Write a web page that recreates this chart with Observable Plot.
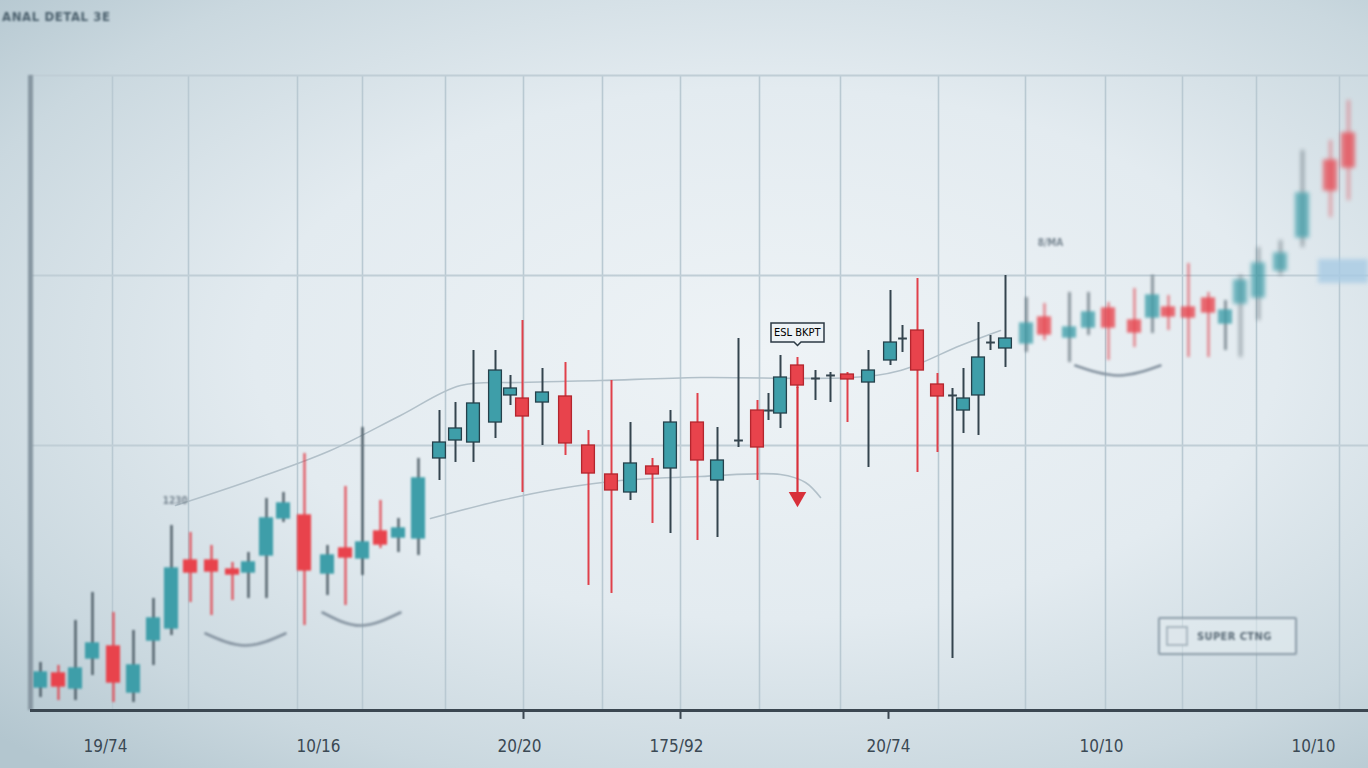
<!DOCTYPE html>
<html>
<head>
<meta charset="utf-8">
<script src="https://cdn.jsdelivr.net/npm/d3@7"></script>
<script src="https://cdn.jsdelivr.net/npm/@observablehq/plot@0.6"></script>
<style>
html, body { margin: 0; padding: 0; width: 1368px; height: 768px; overflow: hidden; }
body {
  position: relative;
  background: radial-gradient(ellipse 78% 72% at 56% 46%, #eef3f6 0%, #e3ebf0 48%, #cad8df 80%, #b3c6cf 100%);
  font-family: "DejaVu Sans", sans-serif;
}
#chart { position: absolute; left: 0; top: 0; }
.title { position: absolute; left: 2px; top: 9px; font: bold 13px "DejaVu Sans Condensed", sans-serif; color: #4a5f6c; letter-spacing: 0.6px; filter: blur(1px); }
.legend { position: absolute; left: 1158px; top: 617px; width: 139px; height: 38px; box-sizing: border-box; border: 2px solid #8b9ba7; border-radius: 2px; background: rgba(228,236,240,0.55); display: flex; align-items: center; gap: 9px; padding-left: 6px; filter: blur(1.1px); }
.legend .sw { width: 22px; height: 20px; border: 2px solid #a9b7c0; background: #dde6eb; box-sizing: border-box; }
.legend span { font: bold 11px "DejaVu Sans Condensed", sans-serif; color: #5b6b77; letter-spacing: 0.4px; }
.tag { position: absolute; left: 1318px; top: 259px; width: 50px; height: 24px; background: #a8cbe4; filter: blur(2.2px); opacity: 0.8; }
.blurL { filter: blur(0.9px); }
.blurR { filter: blur(1.6px); opacity: 0.78; }
.blurRR { filter: blur(2.2px); opacity: 0.7; }
.soft { filter: blur(0.7px); }
</style>
</head>
<body>
<div class="title">ANAL DETAL 3E</div>
<div id="chart"></div>
<div class="tag"></div>
<div class="legend"><div class="sw"></div><span>SUPER CTNG</span></div>
<script>
// ---- data ----
const day   = [1.25,3.5,5.625,7.75,10.375,12.875,15.375,17.625,20,22.625,25.25,27.25,29.5,31.625,34.25,37.125,39.375,41.5,43.75,46,48.5,51.125,53.125,55.375,58.125,60,61.5,64,66.875,69.75,72.625,75,77.75,80,83.375,85.875,88.5,90.875,92.25,93.75,95.875,98.125,100,102.125,104.75,107.5,109,110.875,113.375,115.25,116.625,118.5,120,121.875,124.5,126.75,129.875,132.25,134.75,138,140.25,142.25,144.75,147.25,149.375,151.25,153.5,156.25,159,162.5,164.75];
const open  = [3.62,5.83,3.46,8.19,10.08,2.83,11.02,12.91,23.62,23.62,22.2,21.73,24.41,30.24,30.71,21.57,25.51,23.94,28.19,27.24,27.09,39.69,42.52,42.2,45.35,49.61,49.13,48.5,49.45,41.73,37.17,34.33,38.43,38.11,45.35,36.22,42.52,47.24,47.24,46.77,54.33,52.28,52.76,52.91,51.65,55.12,58.58,59.84,51.34,49.61,47.24,49.61,57.95,57.01,57.8,61.89,58.74,60.31,63.31,61.42,61.89,63.46,63.46,64.88,60.94,64.09,65.04,69.29,74.49,86.61,90.87];
const high  = [7.56,7.09,14.17,18.58,15.43,12.6,17.64,29.13,28.03,25.98,23.31,24.88,33.39,34.33,40.47,25.98,35.28,44.57,33.07,30.24,39.69,47.24,48.5,56.69,56.69,52.76,61.42,53.86,54.8,44.09,51.97,45.35,39.69,47.24,49.92,44.57,58.58,48.82,49.92,55.91,55.59,53.54,53.23,53.23,56.69,66.14,60.63,68.03,53.07,50.71,53.86,61.1,59.06,68.5,65.04,64.09,65.83,65.83,64.25,66.46,68.5,65.35,70.39,65.83,64.57,68.5,72.91,74.02,88.19,89.76,96.06];
const low   = [2.05,1.57,1.57,5.51,1.26,1.26,7.09,11.81,17.01,14.96,17.32,17.64,17.64,29.61,13.39,18.11,16.54,21.26,25.51,24.88,24.41,36.22,39.06,39.06,42.83,48.03,34.33,41.73,40.16,19.69,18.43,33.07,29.45,27.87,26.77,27.24,41.42,36.22,45.67,44.41,50.71,48.82,48.5,45.35,38.27,54.33,56.38,37.48,40.63,8.19,43.62,43.31,56.69,54.02,56.38,58.27,54.8,59.06,55.12,57.17,59.37,59.84,55.59,55.59,56.69,55.59,61.42,68.5,72.91,77.64,80.31];
const close = [5.98,3.78,6.61,10.55,4.41,7.09,14.49,22.36,21.73,21.89,21.42,23.31,30.24,32.6,22.05,24.41,24.09,26.46,26.14,28.66,36.54,42.2,44.41,48.35,53.54,50.71,46.3,50.08,42.05,37.32,34.65,38.9,37.17,45.35,39.37,39.37,42.52,41.42,47.24,52.44,51.18,52.28,52.76,52.13,53.54,57.95,58.58,53.54,49.45,49.61,49.13,55.59,57.95,58.58,60.94,59.21,60.31,62.68,60.31,59.53,65.35,62.05,61.89,62.68,62.99,67.72,70.39,71.97,81.42,81.89,85.51];

// moving-average bands
const upperDay   = [18.125,27.5,37.5,46.25,53.75,61.25,71.25,83.75,102.5,108.75,116.25,121.25];
const upperPrice = [32.28,36.22,40.94,46.46,51.18,51.65,51.97,52.44,52.44,53.54,57.48,59.84];
const lowerDay   = [50,58.75,66.25,73.75,83.75,93.75,96.875,98.75];
const lowerPrice = [30.24,33.07,34.96,36.22,36.85,37.17,35.91,33.54];

// bracket marks under candle groups
const bracketId    = ["a","a","a","b","b","b","c","c","c"];
const bracketDay   = [21.875,26.875,31.875,36.5,41.25,46.25,130.6,136,141.25];
const bracketPrice = [12.13,10.24,12.13,15.43,13.39,15.43,54.33,52.76,54.33];

// annotations
const noteLabel = ["ESL BKPT"];
const noteDay   = [95.875];
const notePrice = [57.5];
const arrowDay  = [95.875];
const arrowFrom = [50.9];
const arrowTo   = [33.6];
const tagLabel  = ["1230", "8/MA"];
const tagDay    = [18.1, 127.5];
const tagPrice  = [33.1, 73.7];

// axis
const gridDays   = [10.25,19.75,33.375,41.5,51.875,61.625,71.5,81.25,91.125,101.25,113.5,124.375,134.375,144,153.25,163.625];
const gridPrices = [41.73,68.5,100];
const labelDays  = [9.375,36,61.125,80.75,107.25,133.875,160.375];
const xLabels    = ["19/74","10/16","20/20","175/92","20/74","10/10","10/10"];
const tickDays   = [61.625,81.25,107.25];

// ---- build ----
const candles = day.map((d, i) => ({day: d, open: open[i], high: high[i], low: low[i], close: close[i]}));
const dir = d => d.close > d.open ? "up" : d.close < d.open ? "down" : "flat";
const fillC   = {up: "#3e9ea9", down: "#e8434c", flat: "#34444e"};
const strokeC = {up: "#25414b", down: "#b3262e", flat: "#34444e"};
const wickC   = {up: "#34444e", down: "#e0404a", flat: "#34444e"};

function candleMarks(data, cls, outline) {
  const bodies = data.filter(d => dir(d) !== "flat");
  const flats = data.filter(d => dir(d) === "flat");
  return [
    Plot.ruleX(data, {x: "day", y1: "low", y2: "high", stroke: d => wickC[dir(d)], strokeWidth: 2, className: cls}),
    Plot.rect(bodies, {x1: d => d.day - 0.8, x2: d => d.day + 0.8, y1: "open", y2: "close",
      fill: d => fillC[dir(d)], stroke: d => outline ? strokeC[dir(d)] : fillC[dir(d)], strokeWidth: 1.3, className: cls}),
    Plot.link(flats, {x1: d => d.day - 0.55, x2: d => d.day + 0.55, y1: "open", y2: "open", stroke: "#34444e", strokeWidth: 2, className: cls})
  ];
}

const leftC   = candles.filter(d => d.day < 49);
const centerC = candles.filter(d => d.day >= 49 && d.day < 122);
const rightC  = candles.filter(d => d.day >= 122 && d.day < 150);
const farC    = candles.filter(d => d.day >= 150);

const bands = [
  ...upperDay.map((d, i) => ({band: "upper", day: d, price: upperPrice[i]})),
  ...lowerDay.map((d, i) => ({band: "lower", day: d, price: lowerPrice[i]}))
];
const brackets = bracketDay.map((d, i) => ({id: bracketId[i], day: d, price: bracketPrice[i]}));
const notes = noteDay.map((d, i) => ({day: d, price: notePrice[i], label: noteLabel[i]}));
const arrows = arrowDay.map((d, i) => ({day: d, from: arrowFrom[i], to: arrowTo[i]}));
const tags = tagDay.map((d, i) => ({day: d, price: tagPrice[i], label: tagLabel[i]}));

const chart = Plot.plot({
  width: 1368,
  height: 768,
  marginLeft: 30,
  marginRight: 0,
  marginTop: 75,
  marginBottom: 58,
  style: {background: "transparent", fontFamily: "DejaVu Sans Condensed, DejaVu Sans, sans-serif"},
  x: {domain: [0, 167.25], axis: null, label: null},
  y: {domain: [0, 100], axis: null, label: null},
  color: {type: "identity"},
  marks: [
    Plot.ruleX(gridDays, {stroke: "#b9c9d2", strokeWidth: 1.6}),
    Plot.ruleY(gridPrices, {stroke: "#c0ced6", strokeWidth: 2}),
    Plot.line(bands, {x: "day", y: "price", z: "band", stroke: "#b2c0c9", strokeWidth: 1.6, curve: "catmull-rom", className: "soft"}),
    Plot.line(brackets, {x: "day", y: "price", z: "id", stroke: "#8593a0", strokeWidth: 2.6, curve: "natural", className: "blurL"}),
    ...candleMarks(leftC, "blurL", false),
    ...candleMarks(centerC, "sharp", true),
    ...candleMarks(rightC, "blurR", false),
    ...candleMarks(farC, "blurRR", false),
    Plot.ruleX(arrows, {x: "day", y1: "from", y2: "to", stroke: "#d8303a", strokeWidth: 2.2}),
    Plot.dot(arrows, {x: "day", y: "to", symbol: "triangle", rotate: 180, r: 6.5, fill: "#d8303a", stroke: "none"}),
    Plot.tip(notes, {x: "day", y: "price", title: "label", anchor: "bottom", fill: "#eef3f6", stroke: "#2c3a44",
      strokeWidth: 1.5, fontSize: 11, textPadding: 3, pointerSize: 7, pathFilter: "none", fontFamily: "DejaVu Sans Condensed"}),
    Plot.text(tags, {x: "day", y: "price", text: "label", fill: "#7a8893", fontSize: 10, fontWeight: "bold", className: "blurL"}),
    Plot.ruleX([0], {stroke: "#8797a2", strokeWidth: 5, className: "blurL"}),
    Plot.ruleY([0], {stroke: "#3b4751", strokeWidth: 3, className: "soft"}),
    Plot.ruleX(tickDays, {y1: -1.4, y2: 0, stroke: "#3b4751", strokeWidth: 2}),
    Plot.axisX({ticks: labelDays, tickFormat: d => xLabels[labelDays.indexOf(d)], tickSize: 0, tickPadding: 29,
      label: null, fontSize: 17, fill: "#3b4954", fontFamily: "DejaVu Sans Condensed"})
  ]
});
document.getElementById("chart").appendChild(chart);
</script>
</body>
</html>
